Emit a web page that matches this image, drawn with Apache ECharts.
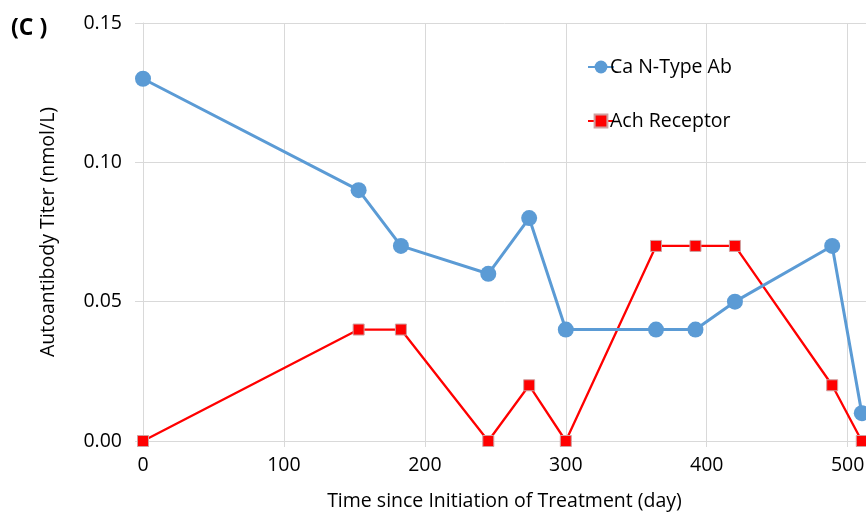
<!DOCTYPE html>
<html>
<head>
<meta charset="utf-8">
<script src="https://cdn.jsdelivr.net/npm/echarts@6/dist/echarts.min.js"></script>
<style>html,body{margin:0;padding:0;background:#fff;}#c{width:866px;height:512px;}</style>
</head>
<body>
<div id="c"></div>
<script>
const days = [0, 153, 183, 245, 274, 300, 364, 392, 420, 489, 510];
const caNType = [0.13, 0.09, 0.07, 0.06, 0.08, 0.04, 0.04, 0.04, 0.05, 0.07, 0.01];
const achReceptor = [0, 0.04, 0.04, 0, 0.02, 0, 0.07, 0.07, 0.07, 0.02, 0];
const seriesNames = ['Ca N-Type Ab', 'Ach Receptor'];
const xTicks = [0, 100, 200, 300, 400, 500];
const yTicks = [0, 0.05, 0.10, 0.15];

const font = "'Open Sans', 'Noto Sans', sans-serif";
const chart = echarts.init(document.getElementById('c'), null, {renderer: 'canvas'});
const pairs = (vals) => days.map((d, i) => [d, vals[i]]);

chart.setOption({
  animation: false,
  backgroundColor: '#fff',
  textStyle: {fontFamily: font},
  graphic: [{
    type: 'text', left: 11, top: 17,
    style: {text: '(C )', font: "bold 23px 'Open Sans', sans-serif", fill: '#000'}
  }],
  legend: {
    orient: 'vertical', left: 582, top: 52, itemGap: 34,
    itemWidth: 26, itemHeight: 16,
    textStyle: {fontFamily: font, fontSize: 19.5, color: '#000', padding: [0, 0, 0, -9]},
    data: seriesNames
  },
  grid: {left: 143, top: 23, right: 0, bottom: 71, containLabel: false, outerBoundsMode: 'none'},
  xAxis: {
    type: 'value', min: 0, max: 513, interval: 100,
    name: 'Time since Initiation of Treatment (day)',
    nameLocation: 'middle', nameGap: 50,
    nameTextStyle: {fontFamily: font, fontSize: 19.5, color: '#000'},
    axisLine: {show: true, lineStyle: {color: '#d9d9d9', width: 1}},
    axisTick: {show: true, length: 6, lineStyle: {color: '#d9d9d9'}},
    axisLabel: {fontFamily: font, fontSize: 19.5, color: '#000', margin: 14, showMaxLabel: false,
      formatter: v => xTicks.includes(v) ? String(v) : ''},
    splitLine: {show: true, lineStyle: {color: '#d9d9d9', width: 1}}
  },
  yAxis: {
    type: 'value', min: 0, max: 0.15, interval: 0.05,
    name: 'Autoantibody Titer (nmol/L)',
    nameLocation: 'middle', nameGap: 85,
    nameTextStyle: {fontFamily: font, fontSize: 19.5, color: '#000'},
    axisLine: {show: true, lineStyle: {color: '#d9d9d9', width: 1}},
    axisTick: {show: true, length: 8, lineStyle: {color: '#d9d9d9'}},
    axisLabel: {fontFamily: font, fontSize: 19.5, color: '#000', margin: 21,
      formatter: v => {
        const t = yTicks.find(y => Math.abs(y - v) < 1e-9);
        return t === undefined ? '' : t.toFixed(2);
      }},
    splitLine: {show: true, lineStyle: {color: '#d9d9d9', width: 1}}
  },
  series: [
    {
      name: seriesNames[0], type: 'line', data: pairs(caNType),
      symbol: 'circle', symbolSize: 16,
      lineStyle: {color: '#5b9bd5', width: 3},
      itemStyle: {color: '#5b9bd5', borderColor: '#5b9bd5', borderWidth: 0},
      z: 3
    },
    {
      name: seriesNames[1], type: 'line', data: pairs(achReceptor),
      symbol: 'rect', symbolSize: 11,
      lineStyle: {color: '#ff0000', width: 2.3},
      itemStyle: {color: '#ff0000', borderColor: '#d0a0a0', borderWidth: 1},
      z: 2
    }
  ]
});
</script>
</body>
</html>
